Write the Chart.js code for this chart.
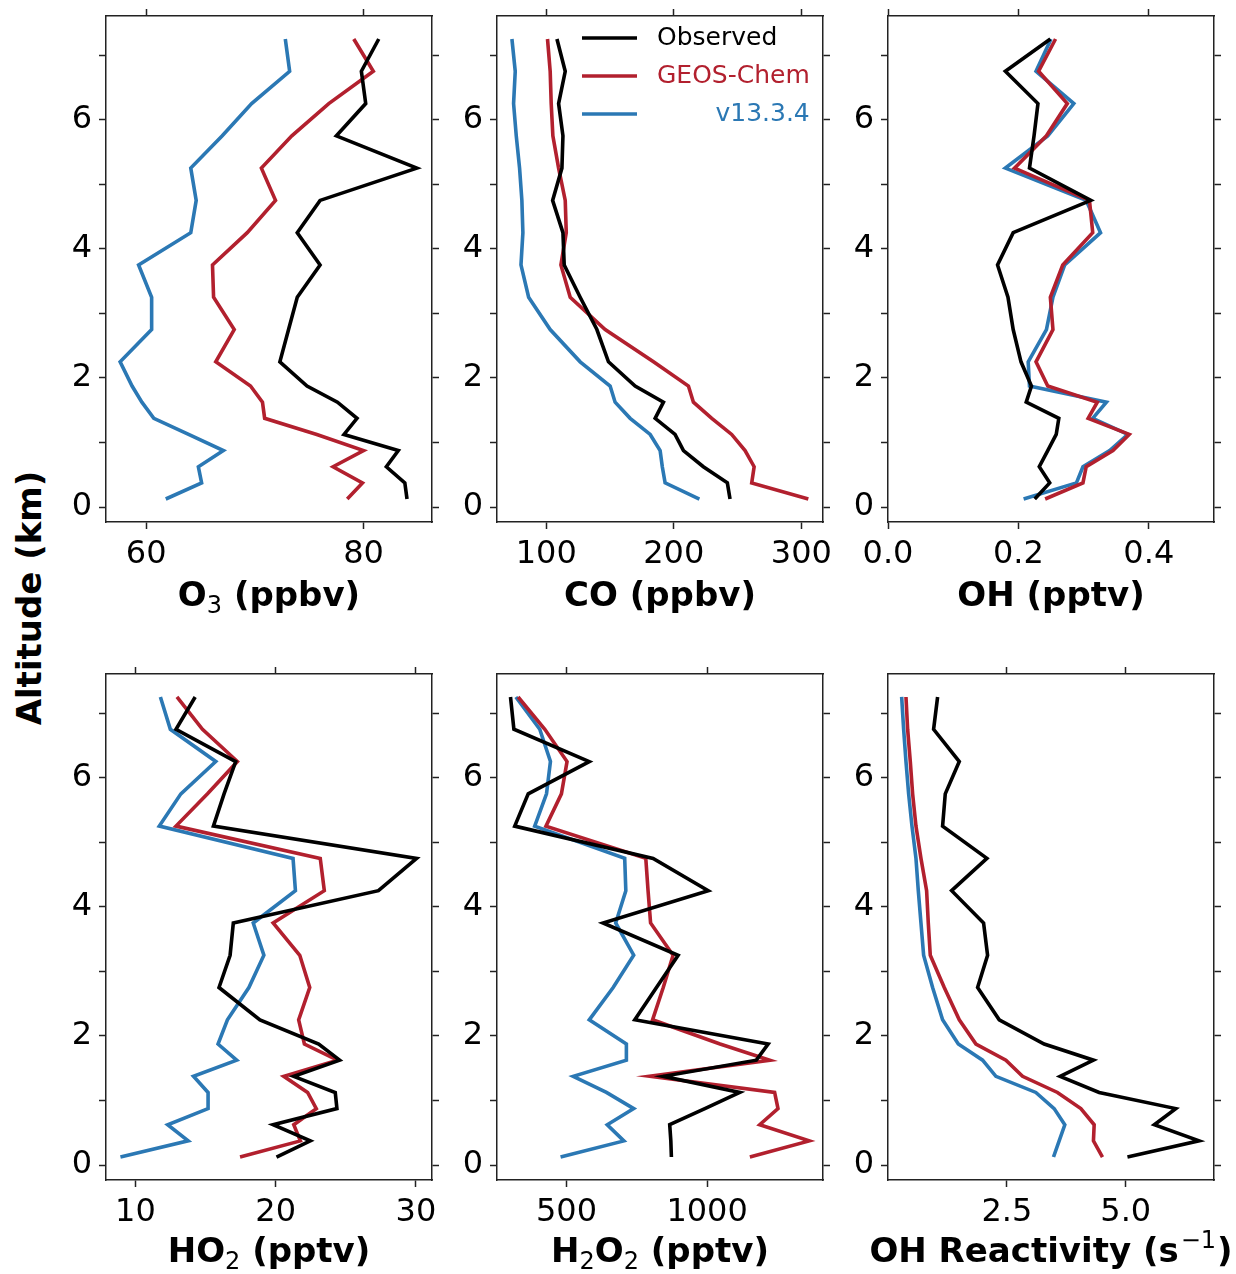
<!DOCTYPE html>
<html>
<head>
<meta charset="utf-8">
<script src="https://cdn.jsdelivr.net/npm/chart.js@4.4.0/dist/chart.umd.min.js"></script>
<style>
  html, body { margin: 0; padding: 0; background: #fff; }
  body { width: 1236px; height: 1274px; position: relative; overflow: hidden; font-family: 'DejaVu Sans', sans-serif; }
  canvas.panel { position: absolute; }
  #ylabel {
    position: absolute; left: 29px; top: 598px;
    transform: translate(-50%, -50%) rotate(-90deg);
    font-weight: bold; font-size: 34px; white-space: nowrap; color: #000;
  }
</style>
</head>
<body>
<div id="ylabel">Altitude (km)</div>
<canvas class="panel" id="o3Chart" width="466" height="639" style="left:6px;top:-24px"></canvas>
<canvas class="panel" id="coChart" width="466" height="639" style="left:397px;top:-24px"></canvas>
<canvas class="panel" id="ohChart" width="466" height="639" style="left:788px;top:-24px"></canvas>
<canvas class="panel" id="ho2Chart" width="466" height="637" style="left:6px;top:634px"></canvas>
<canvas class="panel" id="h2o2Chart" width="466" height="637" style="left:397px;top:634px"></canvas>
<canvas class="panel" id="ohrChart" width="466" height="637" style="left:788px;top:634px"></canvas>
<script>
// altitude levels (km), bottom to top
const ALTITUDE = [0.125, 0.375, 0.625, 0.875, 1.125, 1.375, 1.625, 1.875, 2.25, 2.75, 3.25, 3.75, 4.25, 4.75, 5.25, 5.75, 6.25, 6.75, 7.25];
const ALT_TICKS = [0, 1, 2, 3, 4, 5, 6, 7];

const O3_OBS = [84.0, 83.8, 82.1, 83.2, 78.2, 79.4, 77.6, 74.8, 72.3, 73.1, 73.9, 76.0, 73.9, 76.0, 84.9, 77.5, 80.2, 79.8, 81.4];
const O3_GC = [78.5, 79.9, 77.2, 80.0, 75.7, 70.9, 70.7, 69.6, 66.4, 68.1, 66.2, 66.1, 69.3, 71.9, 70.6, 73.4, 76.8, 80.9, 79.1];
const O3_V13 = [61.8, 65.1, 64.8, 67.1, 63.9, 60.7, 59.6, 58.7, 57.6, 60.5, 60.5, 59.3, 64.1, 64.6, 64.1, 67.0, 69.7, 73.2, 72.8];

const CO_OBS = [244.1, 242.0, 223.2, 207.6, 201.0, 185.4, 191.9, 169.7, 148.8, 139.7, 126.6, 114.1, 113.1, 105.0, 112.3, 113.1, 109.7, 114.9, 108.4];
const CO_GC = [305.5, 261.1, 263.0, 255.9, 245.4, 229.8, 215.4, 211.5, 184.1, 146.2, 118.8, 111.5, 115.7, 114.9, 109.7, 105.2, 103.9, 103.1, 101.0];
const CO_V13 = [220.1, 193.2, 191.0, 189.3, 181.5, 165.8, 154.0, 150.1, 126.6, 103.1, 86.2, 80.2, 81.7, 80.9, 79.1, 76.5, 74.4, 75.7, 73.1];

const OH_OBS = [0.225, 0.248, 0.232, 0.245, 0.258, 0.262, 0.212, 0.220, 0.204, 0.192, 0.184, 0.168, 0.192, 0.311, 0.217, 0.224, 0.230, 0.180, 0.249];
const OH_GC = [0.241, 0.299, 0.304, 0.345, 0.370, 0.307, 0.321, 0.245, 0.227, 0.253, 0.249, 0.268, 0.314, 0.309, 0.194, 0.243, 0.275, 0.231, 0.257];
const OH_V13 = [0.208, 0.289, 0.299, 0.340, 0.368, 0.314, 0.335, 0.217, 0.215, 0.243, 0.253, 0.271, 0.326, 0.304, 0.180, 0.245, 0.285, 0.227, 0.250];

const HO2_OBS = [20.06, 22.47, 19.82, 24.37, 24.25, 21.29, 24.56, 23.07, 18.88, 15.96, 16.75, 16.98, 27.33, 30.05, 15.56, 16.32, 17.15, 12.89, 14.26];
const HO2_GC = [17.46, 21.76, 21.29, 22.90, 22.28, 20.58, 24.41, 22.05, 21.64, 22.43, 21.72, 19.82, 23.47, 23.18, 12.89, 15.14, 17.27, 14.78, 12.96];
const HO2_V13 = [8.93, 13.76, 12.30, 15.18, 15.18, 14.14, 17.22, 15.89, 16.56, 18.09, 19.16, 18.40, 21.41, 21.24, 11.70, 13.24, 15.73, 12.49, 11.78];

const H2O2_OBS = [873, 871, 867, 992, 1116, 844, 1175, 1217, 743, 820, 897, 630, 1004, 808, 316, 364, 581, 313, 301];
const H2O2_GC = [1152, 1363, 1187, 1252, 1240, 796, 1223, 1046, 806, 844, 879, 799, 790, 782, 427, 482, 502, 423, 328];
const H2O2_V13 = [479, 704, 645, 739, 642, 524, 713, 713, 581, 666, 739, 675, 711, 707, 387, 429, 443, 405, 320];

const OHR_OBS = [5.035, 6.54, 5.60, 6.05, 4.44, 3.62, 4.32, 3.284, 2.339, 1.884, 2.094, 2.01, 1.338, 2.08, 1.148, 1.204, 1.499, 0.959, 1.043];
const OHR_GC = [4.51, 4.32, 4.335, 4.055, 3.564, 2.829, 2.479, 1.849, 1.499, 1.183, 0.889, 0.847, 0.812, 0.693, 0.588, 0.518, 0.469, 0.413, 0.378];
const OHR_V13 = [3.48, 3.599, 3.718, 3.494, 3.109, 2.269, 1.989, 1.478, 1.148, 0.938, 0.749, 0.693, 0.637, 0.588, 0.504, 0.434, 0.378, 0.329, 0.287];

const LEGEND_LABELS = ['Observed', 'GEOS-Chem', 'v13.3.4'];
const SERIES_COLORS = ['#000000', '#b2202e', '#2b78b4'];
const FRAME = '#222222';

// axis titles: [text, 0 = normal, 1 = subscript, -1 = superscript]
const O3_TITLE = [['O', 0], ['3', 1], [' (ppbv)', 0]];
const CO_TITLE = [['CO (ppbv)', 0]];
const OH_TITLE = [['OH (pptv)', 0]];
const HO2_TITLE = [['HO', 0], ['2', 1], [' (pptv)', 0]];
const H2O2_TITLE = [['H', 0], ['2', 1], ['O', 0], ['2', 1], [' (pptv)', 0]];
const OHR_TITLE = [['OH Reactivity (s', 0], ['\u22121', -1], [')', 0]];

Chart.defaults.font.family = "'DejaVu Sans', sans-serif";
Chart.defaults.color = '#000';

const legendPlugin = {
    id: 'profileLegend',
    afterDraw(chart) {
        const { ctx, chartArea } = chart;
        ctx.save();
        ctx.font = "25px 'DejaVu Sans'";
        ctx.textBaseline = 'middle';
        const x0 = chartArea.left + 85;
        const x1 = chartArea.left + 140;
        const textX = chartArea.left + 160;
        const textRight = textX + ctx.measureText(LEGEND_LABELS[1]).width;
        LEGEND_LABELS.forEach((label, i) => {
            const y = chartArea.top + 22 + i * 38;
            ctx.strokeStyle = SERIES_COLORS[i];
            ctx.lineWidth = 3.6;
            ctx.beginPath();
            ctx.moveTo(x0, y);
            ctx.lineTo(x1, y);
            ctx.stroke();
            ctx.fillStyle = SERIES_COLORS[i];
            ctx.textAlign = i === 2 ? 'right' : 'left';
            ctx.fillText(label, i === 2 ? textRight : textX, y);
        });
        ctx.restore();
    },
};

// x-axis title with sub/superscripts, like matplotlib mathtext
const mathTitlePlugin = {
    id: 'mathTitle',
    afterDraw(chart, args, opts) {
        const { ctx, chartArea } = chart;
        const baseFont = "bold 34px 'DejaVu Sans'";
        const scriptFont = "24px 'DejaVu Sans'";
        ctx.save();
        ctx.fillStyle = '#000';
        ctx.textAlign = 'left';
        ctx.textBaseline = 'alphabetic';
        const pieces = opts.parts.map(([text, shift]) => {
            ctx.font = shift === 0 ? baseFont : scriptFont;
            return { text, shift, w: ctx.measureText(text).width + (shift === -1 ? 3 : 0) };
        });
        const total = pieces.reduce((a, p) => a + p.w, 0);
        let x = (chartArea.left + chartArea.right) / 2 - total / 2;
        const y = chartArea.bottom + opts.offset;
        pieces.forEach((p) => {
            ctx.font = p.shift === 0 ? baseFont : scriptFont;
            const dy = p.shift === 1 ? 7 : (p.shift === -1 ? -14 : 0);
            ctx.fillText(p.text, x + (p.shift === -1 ? 2 : 0), y + dy);
            x += p.w;
        });
        ctx.restore();
    },
};

function toPoints(values) {
    return values.map((v, i) => ({ x: v, y: ALTITUDE[i] }));
}

function setTicks(values) {
    return (scale) => { scale.ticks = values.map((v) => ({ value: v })); };
}

function makePanel(id, p) {
    const grid = {
        drawOnChartArea: false,
        drawTicks: true,
        tickLength: 7,
        tickWidth: 1.5,
        tickColor: FRAME,
    };
    const border = { display: true, color: FRAME, width: 1.5 };
    const tickFont = { size: 32 };
    const series = [p.obs, p.gc, p.v13];

    return new Chart(document.getElementById(id), {
        type: 'scatter',
        data: {
            datasets: series.map((vals, i) => ({
                label: LEGEND_LABELS[i],
                data: toPoints(vals),
                showLine: true,
                borderColor: SERIES_COLORS[i],
                borderWidth: 3.6,
                pointRadius: 0,
                fill: false,
                tension: 0,
            })),
        },
        options: {
            responsive: false,
            animation: false,
            events: [],
            layout: { padding: 0 },
            plugins: {
                legend: { display: false },
                tooltip: { enabled: false },
                mathTitle: { parts: p.title, offset: p.titleOffset },
            },
            scales: {
                x: {
                    type: 'linear', position: 'bottom', min: p.min, max: p.max,
                    afterBuildTicks: setTicks(p.ticks),
                    ticks: { font: tickFont, padding: 6, maxRotation: 0, autoSkip: false, callback: p.fmt },
                    grid, border,
                    afterFit: (s) => { s.height = p.bottomHeight; },
                },
                x2: {
                    type: 'linear', position: 'top', min: p.min, max: p.max,
                    afterBuildTicks: setTicks(p.ticks),
                    ticks: { display: false },
                    grid, border,
                    afterFit: (s) => { s.height = 40; },
                },
                y: {
                    type: 'linear', position: 'left', min: -0.231, max: 7.606,
                    afterBuildTicks: setTicks(ALT_TICKS),
                    ticks: { font: tickFont, padding: 7, callback: (v) => (v % 2 === 0 ? String(v) : '') },
                    grid, border,
                    afterFit: (s) => { s.width = 100; },
                },
                y2: {
                    type: 'linear', position: 'right', min: -0.231, max: 7.606,
                    afterBuildTicks: setTicks(ALT_TICKS),
                    ticks: { display: false },
                    grid, border,
                    afterFit: (s) => { s.width = 40; },
                },
            },
        },
        plugins: p.legend ? [mathTitlePlugin, legendPlugin] : [mathTitlePlugin],
    });
}

const intFmt = (v) => String(v);
const oneDec = (v) => v.toFixed(1);

makePanel('o3Chart', { obs: O3_OBS, gc: O3_GC, v13: O3_V13, min: 56.3, max: 86.3, ticks: [60, 80], fmt: intFmt, title: O3_TITLE, titleOffset: 84, bottomHeight: 93 });
makePanel('coChart', { obs: CO_OBS, gc: CO_GC, v13: CO_V13, min: 61.4, max: 317, ticks: [100, 200, 300], fmt: intFmt, title: CO_TITLE, titleOffset: 84, legend: true, bottomHeight: 93 });
makePanel('ohChart', { obs: OH_OBS, gc: OH_GC, v13: OH_V13, min: 0, max: 0.5, ticks: [0, 0.2, 0.4], fmt: oneDec, title: OH_TITLE, titleOffset: 84, bottomHeight: 93 });
makePanel('ho2Chart', { obs: HO2_OBS, gc: HO2_GC, v13: HO2_V13, min: 7.9, max: 31.15, ticks: [10, 20, 30], fmt: intFmt, title: HO2_TITLE, titleOffset: 82, bottomHeight: 91 });
makePanel('h2o2Chart', { obs: H2O2_OBS, gc: H2O2_GC, v13: H2O2_V13, min: 253, max: 1412, ticks: [500, 1000], fmt: intFmt, title: H2O2_TITLE, titleOffset: 82, bottomHeight: 91 });
makePanel('ohrChart', { obs: OHR_OBS, gc: OHR_GC, v13: OHR_V13, min: 0, max: 6.855, ticks: [2.5, 5.0], fmt: oneDec, title: OHR_TITLE, titleOffset: 82, bottomHeight: 91 });
</script>
</body>
</html>
